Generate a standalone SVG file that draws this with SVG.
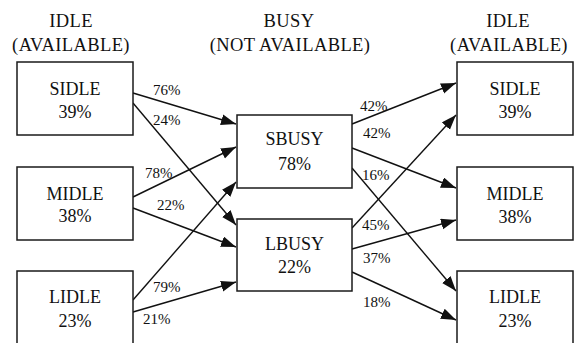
<svg xmlns="http://www.w3.org/2000/svg" width="579" height="343" viewBox="0 0 579 343">
<style>
.box{fill:#fff;stroke:#1a1a1a;stroke-width:1.5}
.t{font-family:"Liberation Serif","Times New Roman",serif;font-size:18px;fill:#111;text-anchor:middle}
.h{font-family:"Liberation Serif","Times New Roman",serif;font-size:18.5px;fill:#111;text-anchor:middle;letter-spacing:0.4px}
.l{font-family:"Liberation Serif","Times New Roman",serif;font-size:15px;fill:#111}
.c{stroke:#111;stroke-width:1.4;fill:none;marker-end:url(#ah)}
</style>
<defs>
<marker id="ah" markerUnits="userSpaceOnUse" markerWidth="16" markerHeight="12" refX="15" refY="5.5" orient="auto">
<path d="M0,0 L15,5.5 L0,11 z" fill="#111"/>
</marker>
</defs>
<rect width="579" height="343" fill="#fff"/>
<g id="headers">
<text class="h" x="71" y="27">IDLE</text>
<text class="h" x="71" y="51">(AVAILABLE)</text>
<text class="h" x="289" y="27">BUSY</text>
<text class="h" x="290" y="51">(NOT AVAILABLE)</text>
<text class="h" x="508" y="27">IDLE</text>
<text class="h" x="509" y="51">(AVAILABLE)</text>
</g>
<g id="connectors">
<line class="c" x1="133" y1="93" x2="236" y2="124"/>
<line class="c" x1="133" y1="103" x2="236" y2="225"/>
<line class="c" x1="133" y1="197" x2="236" y2="147"/>
<line class="c" x1="133" y1="208" x2="236" y2="247"/>
<line class="c" x1="133" y1="300" x2="236" y2="182"/>
<line class="c" x1="133" y1="312" x2="236" y2="282"/>
<line class="c" x1="352" y1="124" x2="456" y2="83"/>
<line class="c" x1="352" y1="148" x2="456" y2="188"/>
<line class="c" x1="352" y1="168" x2="456" y2="291"/>
<line class="c" x1="352" y1="228" x2="456" y2="115"/>
<line class="c" x1="352" y1="249" x2="456" y2="220"/>
<line class="c" x1="352" y1="272" x2="456" y2="320"/>
<text class="l" x="153" y="95">76%</text>
<text class="l" x="153" y="125">24%</text>
<text class="l" x="145" y="178">78%</text>
<text class="l" x="157" y="210">22%</text>
<text class="l" x="153" y="292">79%</text>
<text class="l" x="143" y="324">21%</text>
<text class="l" x="360" y="111">42%</text>
<text class="l" x="363" y="138">42%</text>
<text class="l" x="362" y="180">16%</text>
<text class="l" x="362" y="230">45%</text>
<text class="l" x="363" y="263">37%</text>
<text class="l" x="363" y="307">18%</text>
</g>
<g id="sidle-left">
<rect class="box" x="17" y="62" width="116" height="73"/>
<text class="t" x="75" y="95">SIDLE</text>
<text class="t" x="75" y="118">39%</text>
</g>
<g id="midle-left">
<rect class="box" x="17" y="167" width="116" height="73"/>
<text class="t" x="75" y="200">MIDLE</text>
<text class="t" x="75" y="222">38%</text>
</g>
<g id="lidle-left">
<rect class="box" x="17" y="271" width="116" height="80"/>
<text class="t" x="75" y="303">LIDLE</text>
<text class="t" x="75" y="327">23%</text>
</g>
<g id="sbusy">
<rect class="box" x="237" y="115" width="115" height="73"/>
<text class="t" x="294.5" y="145">SBUSY</text>
<text class="t" x="294.5" y="170">78%</text>
</g>
<g id="lbusy">
<rect class="box" x="237" y="219" width="115" height="72"/>
<text class="t" x="294.5" y="250">LBUSY</text>
<text class="t" x="294.5" y="273">22%</text>
</g>
<g id="sidle-right">
<rect class="box" x="457" y="62" width="116" height="73"/>
<text class="t" x="515" y="95">SIDLE</text>
<text class="t" x="515" y="118">39%</text>
</g>
<g id="midle-right">
<rect class="box" x="457" y="167" width="116" height="73"/>
<text class="t" x="515" y="200">MIDLE</text>
<text class="t" x="515" y="223">38%</text>
</g>
<g id="lidle-right">
<rect class="box" x="457" y="271" width="116" height="80"/>
<text class="t" x="515" y="303">LIDLE</text>
<text class="t" x="515" y="327">23%</text>
</g>
</svg>
